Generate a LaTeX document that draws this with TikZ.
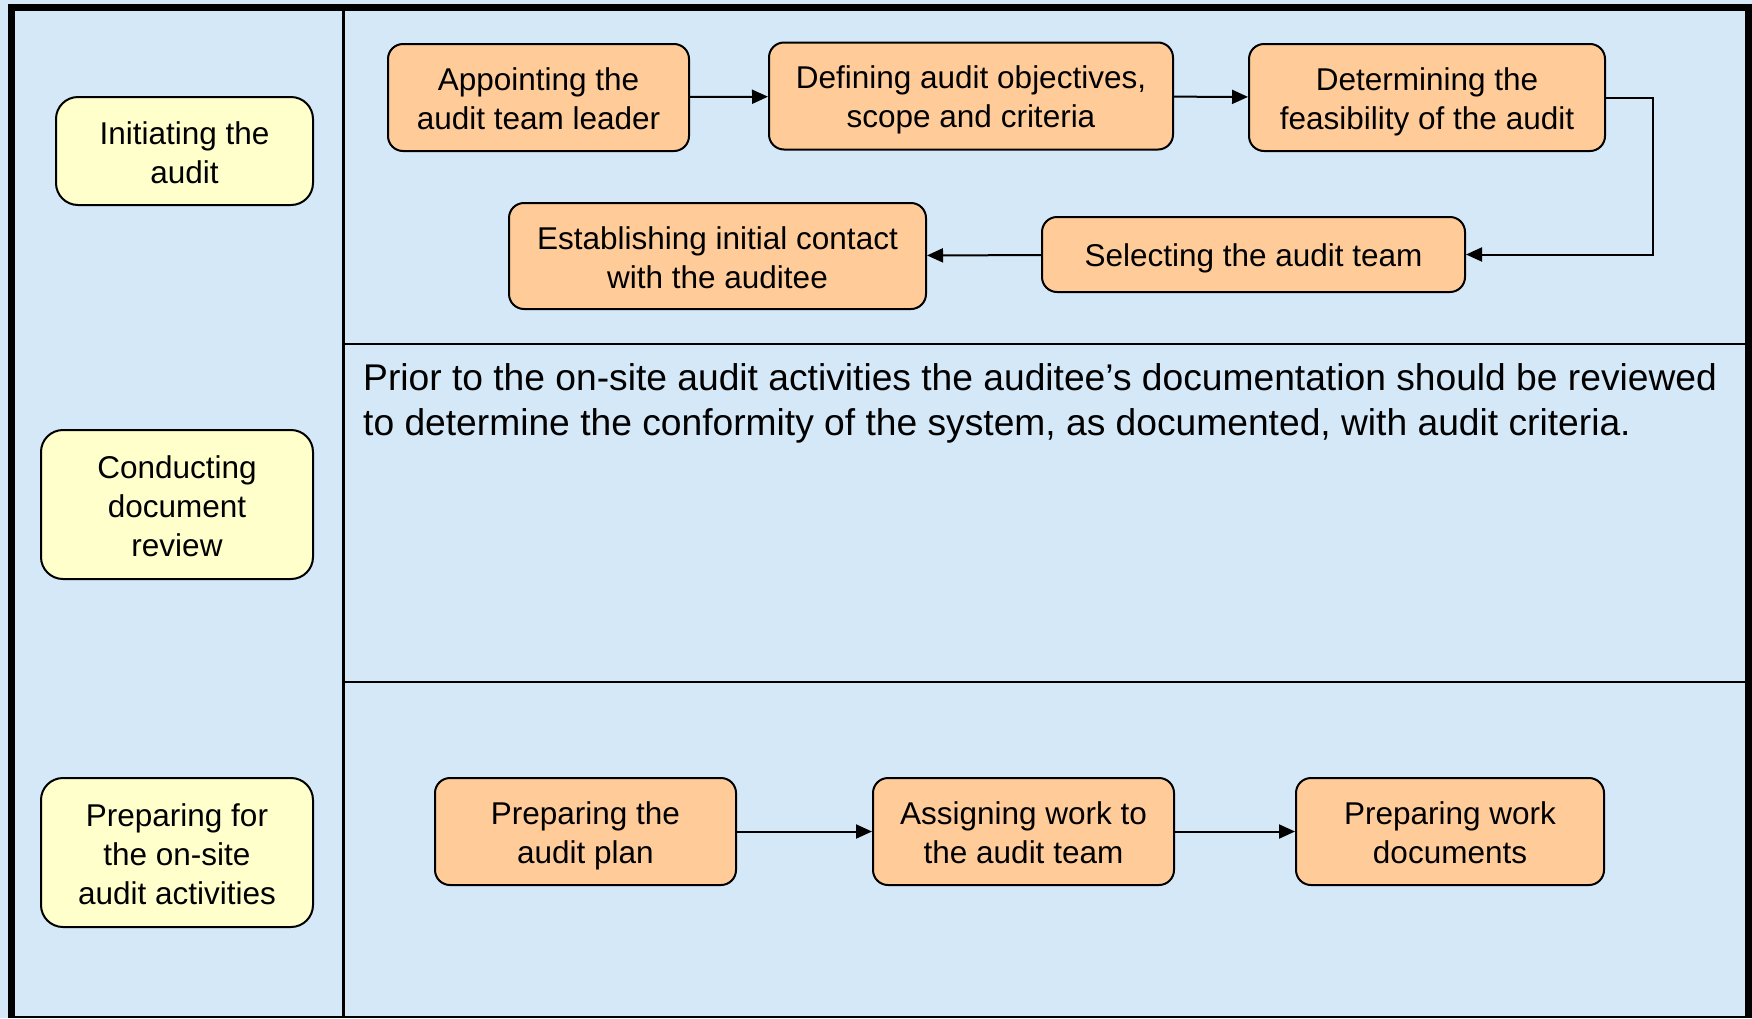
\documentclass[tikz,border=0pt]{standalone}
\usepackage{fontspec}
\setmainfont{Liberation Sans}
\usepackage{xcolor}
\usepackage{tikz}
\usetikzlibrary{arrows.meta}
\usetikzlibrary{calc}
\definecolor{lanebg}{RGB}{213,232,247}
\definecolor{phasefill}{RGB}{255,255,204}
\definecolor{stepfill}{RGB}{255,204,153}
\newcommand{\ls}{\rule[-6pt]{0pt}{37pt}}

\begin{document}
\begin{tikzpicture}[x=1pt, y=-1pt]

                \tikzstyle{phase} = [draw, line width=2pt, rounded corners=22pt, fill=phasefill, align=center, inner sep=0pt, font=\fontsize{31.5}{39}\selectfont]
                \tikzstyle{stepbox} = [draw, line width=2pt, rounded corners=15pt, fill=stepfill, align=center, inner sep=0pt, minimum height=107pt, font=\fontsize{31.5}{39}\selectfont]
                \tikzstyle{flow} = [line width=2pt, -{Triangle[length=16pt, width=14pt]}]

                \fill [lanebg] (0,0) rectangle (1752,1018);
                \useasboundingbox (0,0) rectangle (1752,1018);

                % frame and lanes
                \draw [line width=7pt] (11.5,1018) -- (11.5,7) -- (1748.5,7) -- (1748.5,1018);
                \draw [line width=2pt] (8,1016.5) -- (1752,1016.5);
                \draw [line width=3pt] (343,7) -- (343,1018);
                \foreach \y in {344, 682}
                {
                        \draw [line width=2.5pt] (343,\y) -- (1748,\y);
                }

                \node [phase, minimum width=257pt, minimum height=108pt](l1) at (184.5,151) {\ls Initiating the\\audit\ls};
                \node [phase, minimum width=272pt, minimum height=149pt](l2) at (177,504.5) {\ls Conducting\\document\\review\ls};
                \node [phase, minimum width=272pt, minimum height=149pt](l3) at (177,852.5) {\ls Preparing for\\the on-site\\audit activities\ls};

                \node [stepbox, minimum width=301pt](a1) at (538.5,97.5) {\ls Appointing the\\audit team leader\ls};
                \node [stepbox, minimum width=404pt](a2) at (971,96) {\ls Defining audit objectives,\\scope and criteria\ls};
                \node [stepbox, minimum width=356pt](a3) at (1427,97.5) {\ls Determining the\\feasibility of the audit\ls};
                \node [stepbox, minimum width=423pt, minimum height=75pt](a4) at (1253.5,254.5) {\ls Selecting the audit team\ls};
                \node [stepbox, minimum width=417pt, minimum height=106pt](a5) at (717.5,256) {\ls Establishing initial contact\\with the auditee\ls};

                \draw [flow] (a1) -- (a2);
                \draw [flow] (a2) -- (a3);
                \draw [flow] (a3.east) -- ++(47,0) |- (a4.east);
                \draw [flow] (a4) -- (a5);

                \node [anchor=base west, align=left, inner sep=0pt, font=\fontsize{37.2}{45}\selectfont](txt) at (363,435) {Prior to the on-site audit activities the auditee’s documentation should be reviewed\\to determine the conformity of the system, as documented, with audit criteria.};

                \foreach \x/\t [count=\i] in {585.5/{\ls Preparing the\\audit plan\ls}, 1023.5/{\ls Assigning work to\\the audit team\ls}}
                {
                        \node [stepbox, minimum width=301pt](b\i) at (\x,831.5) {\t};
                }
                \node [stepbox, minimum width=308pt](b3) at (1450,831.5) {\ls Preparing work\\documents\ls};

                \draw [flow] (b1) -- (b2);
                \draw [flow] (b2) -- (b3);

\end{tikzpicture}
\end{document}
